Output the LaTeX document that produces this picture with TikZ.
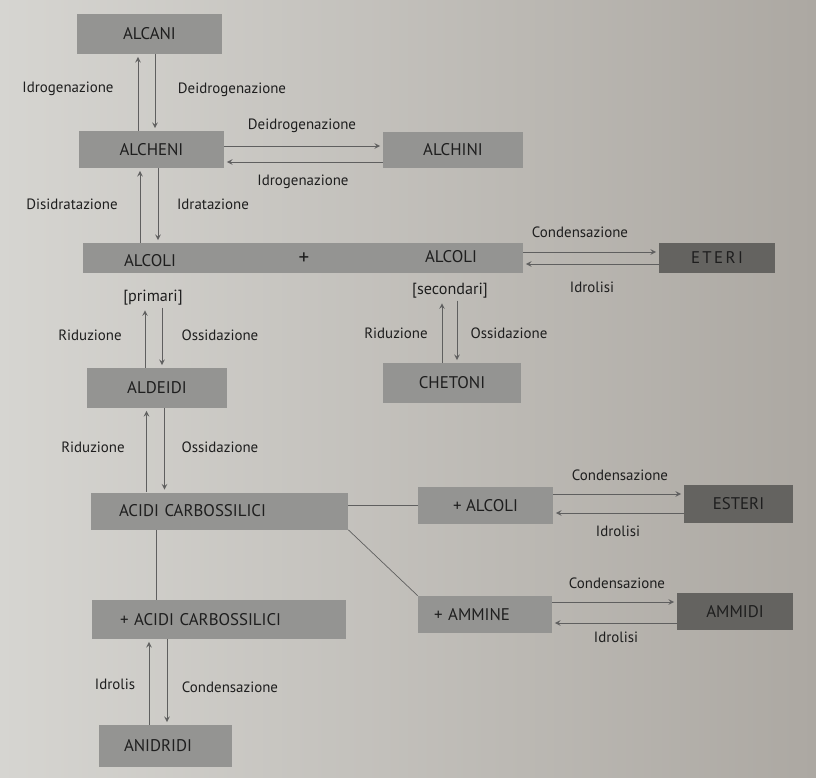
\documentclass[tikz,border=0pt]{standalone}
\usepackage{fontspec}
\setmainfont{PT Sans}
\usepackage{tikz}
\usetikzlibrary{arrows,positioning}
\usepackage{xcolor}
\definecolor{pagegray}{RGB}{214,213,209}
\definecolor{pageshade}{RGB}{172,168,162}
\definecolor{boxgray}{RGB}{148,148,146}
\definecolor{boxdark}{RGB}{100,99,96}
\definecolor{inkgray}{RGB}{30,30,30}
\definecolor{linegray}{RGB}{95,95,95}
\tikzstyle{arrow} = [thin,->,>=stealth,color=linegray,shorten >=1.5pt]
\tikzstyle{link} = [thin,color=linegray]
\tikzstyle{compound} = [rectangle, inner sep=0pt, text centered, fill=boxgray, text=inkgray, font=\fontsize{9.6}{11}\selectfont]
\tikzstyle{product} = [compound, fill=boxdark]
\tikzstyle{reaction} = [inner sep=1pt, text=inkgray, font=\fontsize{8.5}{10}\selectfont]

\begin{document}
\begin{tikzpicture}[x=0.02cm, y=-0.02cm]
% page
\fill[left color=pagegray, right color=pageshade] (0,0) rectangle (816,778);
\useasboundingbox (0,0) rectangle (816,778);

% compounds
\node (alcani) [compound, minimum width=2.9cm, minimum height=0.8cm] at (149.5,34) {ALCANI};
\node (alcheni) [compound, minimum width=2.9cm, minimum height=0.74cm] at (151.5,149.5) {ALCHENI};
\node (alchini) [compound, minimum width=2.8cm, minimum height=0.72cm] at (453,150) {ALCHINI};
\node (alcoli) [compound, minimum width=8.8cm, minimum height=0.6cm] at (303,258) {};
\node (alcoliA) [compound, fill=none] at (150,261) {ALCOLI};
\node (plus) [compound, fill=none, font=\fontsize{12}{12}\selectfont] at (304,259) {+};
\node (alcoliB) [compound, fill=none] at (451,257) {ALCOLI};
\node (eteri) [product, minimum width=2.32cm, minimum height=0.6cm] at (717,258) {\addfontfeature{LetterSpace=14}ETERI};
\node (primari) [reaction, font=\fontsize{9.2}{10}\selectfont] at (153,298) {[primari]};
\node (secondari) [reaction, font=\fontsize{9.2}{10}\selectfont] at (450,291) {[secondari]};
\node (aldeidi) [compound, minimum width=2.8cm, minimum height=0.8cm] at (157,388) {ALDEIDI};
\node (chetoni) [compound, minimum width=2.78cm, minimum height=0.8cm] at (452,383) {CHETONI};
\node (acidi) [compound, minimum width=5.14cm, minimum height=0.74cm, inner xsep=0.56cm, text width=4.02cm, align=left] at (219.5,511) {ACIDI CARBOSSILICI};
\node (plusalcoli) [compound, minimum width=2.7cm, minimum height=0.74cm] at (485.5,505.5) {+ ALCOLI};
\node (esteri) [product, minimum width=2.18cm, minimum height=0.76cm] at (738.5,504) {ESTERI};
\node (plusacidi) [compound, minimum width=5.08cm, minimum height=0.78cm, inner xsep=0.56cm, text width=3.96cm, align=left] at (219,619.5) {+ ACIDI CARBOSSILICI};
\node (plusammine) [compound, minimum width=2.68cm, minimum height=0.74cm, inner xsep=0.32cm, text width=2.04cm, align=left] at (485,614.5) {+ AMMINE};
\node (ammidi) [product, minimum width=2.32cm, minimum height=0.74cm] at (735,611.5) {AMMIDI};
\node (anidridi) [compound, minimum width=2.66cm, minimum height=0.84cm, inner xsep=0.5cm, text width=1.66cm, align=left] at (165.5,746) {ANIDRIDI};

% reactions
\node (lblA) [reaction] at (68,89) {Idrogenazione};
\node (lblB) [reaction] at (232,90) {Deidrogenazione};
\node (lblC) [reaction] at (302,126) {Deidrogenazione};
\node (lblD) [reaction] at (303,182) {Idrogenazione};
\node (lblE) [reaction] at (72,204) {Disidratazione};
\node (lblF) [reaction] at (213,204) {Idratazione};
\node (lblG) [reaction] at (580,232) {Condensazione};
\node (lblH) [reaction] at (592,287) {Idrolisi};
\node (lblI) [reaction] at (90,335) {Riduzione};
\node (lblJ) [reaction] at (220,335) {Ossidazione};
\node (lblK) [reaction] at (396,333) {Riduzione};
\node (lblL) [reaction] at (509,333) {Ossidazione};
\node (lblM) [reaction] at (93,447) {Riduzione};
\node (lblN) [reaction] at (220,447) {Ossidazione};
\node (lblO) [reaction] at (620,475) {Condensazione};
\node (lblP) [reaction] at (618,531) {Idrolisi};
\node (lblQ) [reaction] at (617,583) {Condensazione};
\node (lblR) [reaction] at (616,637) {Idrolisi};
\node (lblS) [reaction] at (115,684) {Idrolis};
\node (lblT) [reaction] at (230,687) {Condensazione};

% vertical pairs
\draw[arrow] ([xshift=-0.27cm]alcheni.north) -- ([xshift=-0.27cm]alcheni.north |- alcani.south);
\draw[arrow] ([xshift=0.07cm]alcheni.north |- alcani.south) -- ([xshift=0.07cm]alcheni.north);
\draw[arrow] ([xshift=-0.23cm]alcheni.south |- alcoli.north) -- ([xshift=-0.23cm]alcheni.south);
\draw[arrow] ([xshift=0.13cm]alcheni.south) -- ([xshift=0.13cm]alcheni.south |- alcoli.north);
\draw[arrow] ([xshift=-0.24cm]aldeidi.north) -- ([xshift=-0.24cm]aldeidi.north |- primari.south);
\draw[arrow] ([xshift=0.1cm]aldeidi.north |- primari.south) -- ([xshift=0.1cm]aldeidi.north);
\draw[arrow] ([xshift=-0.2cm]chetoni.north) -- ([xshift=-0.2cm]chetoni.north |- secondari.south);
\draw[arrow] ([xshift=0.1cm]chetoni.north |- secondari.south) -- ([xshift=0.1cm]chetoni.north);
\draw[arrow] ([xshift=-0.21cm]aldeidi.south |- acidi.north) -- ([xshift=-0.21cm]aldeidi.south);
\draw[arrow] ([xshift=0.15cm]aldeidi.south) -- ([xshift=0.15cm]aldeidi.south |- acidi.north);
\draw[arrow] ([xshift=-0.33cm]anidridi.north) -- ([xshift=-0.33cm]anidridi.north |- plusacidi.south);
\draw[arrow] ([xshift=0.03cm]anidridi.north |- plusacidi.south) -- ([xshift=0.03cm]anidridi.north);

% horizontal pairs
\draw[arrow] ([yshift=0.07cm]alcheni.east) -- ([yshift=0.07cm]alcheni.east -| alchini.west);
\draw[arrow] ([yshift=-0.25cm]alcheni.east -| alchini.west) -- ([yshift=-0.25cm]alcheni.east);
\draw[arrow] ([yshift=0.12cm]alcoli.east) -- ([yshift=0.12cm]alcoli.east -| eteri.west);
\draw[arrow] ([yshift=-0.12cm]alcoli.east -| eteri.west) -- ([yshift=-0.12cm]alcoli.east);
\draw[arrow] ([yshift=0.23cm]plusalcoli.east) -- ([yshift=0.23cm]plusalcoli.east -| esteri.west);
\draw[arrow] ([yshift=-0.15cm]plusalcoli.east -| esteri.west) -- ([yshift=-0.15cm]plusalcoli.east);
\draw[arrow] ([yshift=0.25cm]plusammine.east) -- ([yshift=0.25cm]plusammine.east -| ammidi.west);
\draw[arrow] ([yshift=-0.17cm]plusammine.east -| ammidi.west) -- ([yshift=-0.17cm]plusammine.east);

% plain links
\draw[link] (acidi.east |- plusalcoli.west) -- (plusalcoli.west);
\draw[link] (acidi.south east) -- (plusammine.north west);
\draw[link] ([xshift=-1.27cm]acidi.south) -- ([xshift=-1.27cm]acidi.south |- plusacidi.north);
\end{tikzpicture}
\end{document}
